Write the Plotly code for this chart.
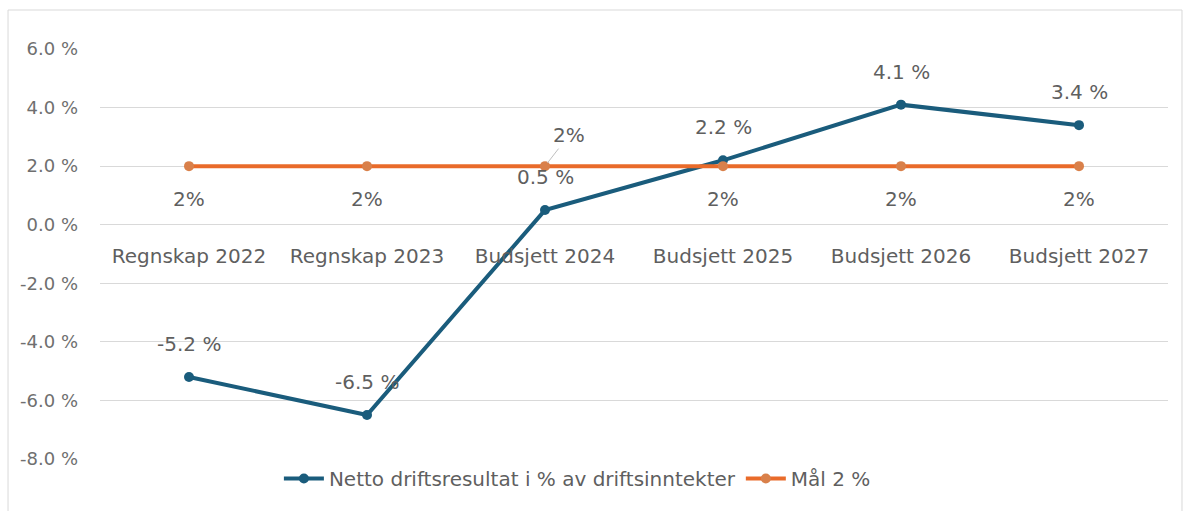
import plotly.graph_objects as go

# Categories and series
categories = ["Regnskap 2022", "Regnskap 2023", "Budsjett 2024",
              "Budsjett 2025", "Budsjett 2026", "Budsjett 2027"]
netto = [-5.2, -6.5, 0.5, 2.2, 4.1, 3.4]
maal = [2, 2, 2, 2, 2, 2]

y_ticks = [-8, -6, -4, -2, 0, 2, 4, 6]
y_ticktext = ["-8.0 %", "-6.0 %", "-4.0 %", "-2.0 %", "0.0 %", "2.0 %", "4.0 %", "6.0 %"]

BLUE = "#1a5c7c"
ORANGE = "#e96b2a"
TEXT = "#5f5f5f"
FONT = "DejaVu Sans"
FS = 20

fig = go.Figure()
fig.add_trace(go.Scatter(
    x=categories, y=netto, mode="lines+markers",
    name="Netto driftsresultat i % av driftsinntekter",
    line=dict(color=BLUE, width=4),
    marker=dict(color=BLUE, size=10),
))
fig.add_trace(go.Scatter(
    x=categories, y=maal, mode="lines+markers",
    name="Mål 2 %",
    line=dict(color=ORANGE, width=4),
    marker=dict(color="#d9804a", size=10),
))

annotations = []
# Labels above the result line
for c, v in zip(categories, netto):
    annotations.append(dict(
        x=c, y=v, xref="x", yref="y", text=f"{v:.1f} %", showarrow=False,
        yshift=33, font=dict(family=FONT, size=FS, color=TEXT),
    ))
# Labels for the target line (the one at Budsjett 2024 is moved up with a leader)
for i, (c, v) in enumerate(zip(categories, maal)):
    if i == 2:
        annotations.append(dict(
            x=c, y=v, xref="x", yref="y", text=f"{v}%", showarrow=True,
            arrowhead=0, arrowwidth=1, arrowcolor="#bfbfbf",
            ax=24, ay=-31, standoff=4,
            font=dict(family=FONT, size=FS, color=TEXT),
        ))
    else:
        annotations.append(dict(
            x=c, y=v, xref="x", yref="y", text=f"{v}%", showarrow=False,
            yshift=-33, font=dict(family=FONT, size=FS, color=TEXT),
        ))

fig.update_layout(
    width=1186, height=511,
    margin=dict(l=100, r=18, t=49, b=52),
    paper_bgcolor="white", plot_bgcolor="white",
    font=dict(family=FONT, size=FS, color=TEXT),
    showlegend=True,
    legend=dict(orientation="h", x=0.447, xanchor="center", y=-0.0, yanchor="top",
                font=dict(family=FONT, size=FS, color=TEXT), itemwidth=40,
                bgcolor="rgba(0,0,0,0)"),
    xaxis=dict(
        type="category", range=[-0.5, 5.5],
        anchor="free", position=8 / 14,
        showgrid=False, showline=False, ticks="", zeroline=False,
        ticklabelstandoff=17,
        tickfont=dict(family=FONT, size=FS, color=TEXT),
    ),
    yaxis=dict(
        range=[-8, 6], tickvals=y_ticks, ticktext=y_ticktext,
        showgrid=True, gridcolor="#d9d9d9", gridwidth=1,
        zeroline=True, zerolinecolor="#d9d9d9", zerolinewidth=1,
        showline=False, ticks="", ticklabelstandoff=21,
        tickfont=dict(family=FONT, size=18, color="#6f6f6f"),
    ),
    annotations=annotations,
    shapes=[dict(type="rect", xref="paper", yref="paper",
                 x0=-0.0861, x1=1.0131, y0=-0.137, y1=1.0951,
                 line=dict(color="#d9d9d9", width=1), layer="below")],
)

fig.write_html("out.html")
